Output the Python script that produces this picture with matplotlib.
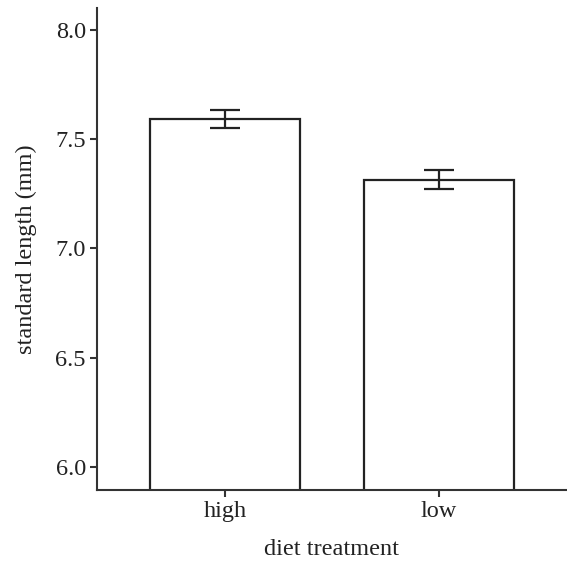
import matplotlib.pyplot as plt

treatments = ["high", "low"]
mean_length = [7.59, 7.315]
se_length = [0.041, 0.044]
y_ticks = [6.0, 6.5, 7.0, 7.5, 8.0]

plt.rcParams['font.family'] = ['Liberation Serif', 'DejaVu Serif']

fig = plt.figure(figsize=(5.67, 5.62), dpi=100)
ax = fig.add_axes([0.171, 0.128, 0.829, 0.858])

x = range(len(treatments))
ax.bar(x, mean_length, width=0.7, bottom=0, color='white', edgecolor='#222222', linewidth=1.6)
ax.errorbar(x, mean_length, yerr=se_length, fmt='none', ecolor='#222222',
            elinewidth=1.6, capsize=10.5, capthick=1.6)

ax.set_xlim(-0.6, 1.6)
ax.set_ylim(5.895, 8.10)
ax.set_xticks(list(x))
ax.set_xticklabels(treatments)
ax.set_yticks(y_ticks)
ax.set_yticklabels([f"{v:.1f}" for v in y_ticks])

for side in ['top', 'right']:
    ax.spines[side].set_visible(False)
for side in ['left', 'bottom']:
    ax.spines[side].set_linewidth(1.5)
    ax.spines[side].set_color('#333333')

ax.tick_params(axis='both', direction='out', length=5, width=1.5, color='#333333',
               labelsize=17.5, labelcolor='#222222', pad=3)
ax.set_xlabel("diet treatment", fontsize=17.5, color='#222222', labelpad=12)
ax.set_ylabel("standard length (mm)", fontsize=17.5, color='#222222', labelpad=13)

fig.savefig("out.png", dpi=100)
